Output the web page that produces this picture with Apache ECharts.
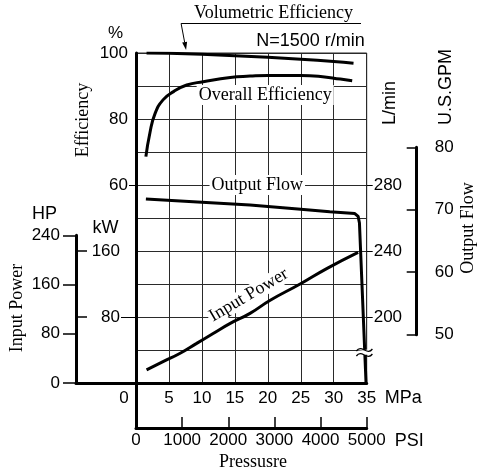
<!DOCTYPE html>
<html>
<head>
<meta charset="utf-8">
<script src="https://cdn.jsdelivr.net/npm/echarts@6/dist/echarts.min.js"></script>
<style>
  html, body { margin: 0; padding: 0; background: #fff; }
  #chart { width: 478px; height: 474px; }
</style>
</head>
<body>
<div id="chart"></div>
<script>
// ---- axis ticks / labels ----
const mpaTicks = [0, 5, 10, 15, 20, 25, 30, 35];
const psiTickMarks = [1000, 2000, 3000, 4000, 5000];
const effLabels = [60, 80, 100];
const lpmLabels = [200, 240, 280];
const gpmTicks = [50, 60, 70, 80];
const hpTicks = [0, 80, 160, 240];
const kwLabels = [80, 160];

// ---- performance curves (N = 1500 r/min) ----
// Volumetric efficiency, %
const volPressure = [1.6, 5, 10, 15, 20, 25, 30, 33];
const volEff = [100, 99.9, 99.6, 99.2, 98.7, 98.1, 97.4, 96.9];
// Overall efficiency, %
const overallPressure = [1.5, 2.1, 2.9, 4.1, 5.7, 7.7, 10.2, 14.3, 17.3, 20, 25, 28, 31, 32.8];
const overallEff = [68.6, 75.7, 81.7, 85.8, 88.3, 90.3, 91.3, 92.6, 93.0, 93.2, 93.2, 92.9, 92.1, 91.6];
// Output flow, L/min
const flowPressure = [1.5, 10, 17.3, 25, 29.4, 33.2, 33.7, 33.9, 34.9];
const flowLpm = [271.5, 269.6, 267.9, 265.3, 263.8, 262.7, 261, 257, 160];
// Input power, kW
const powerPressure = [1.6, 4.1, 6.7, 9.2, 11.7, 14.3, 17.3, 20.3, 24.9, 29, 33.7];
const powerKw = [15.8, 25.8, 36, 48, 60, 72.3, 84.4, 100, 120, 139, 158.4];

// unit conversions
const LPM_PER_GPM = 3.7854;
const KW_PER_HP = 0.7457;

// ---- layout ----
const PL = 136, PT = 53, PW = 230.7, PH = 330;   // main plot
const PB = PT + PH;
const LPM_MIN = 160, LPM_MAX = 360, KW_MAX = 400;
const yOfLpm = v => PT + (LPM_MAX - v) / (LPM_MAX - LPM_MIN) * PH;
const yOfKw = v => PB - v / KW_MAX * PH;
const hpTop = yOfKw(240 * KW_PER_HP);
const gpmTop = yOfLpm(80 * LPM_PER_GPM);
const gpmBot = yOfLpm(50 * LPM_PER_GPM);
const GPM_X = 426.7;

const SANS = '"Liberation Sans", Arial, sans-serif';
const SERIF = '"Liberation Serif", "Times New Roman", serif';
const INK = '#000';
const GRID_INK = '#2a2a2a';
const thick = { show: true, lineStyle: { color: INK, width: 3 } };
const numLabel = { color: INK, fontSize: 17, fontFamily: SANS };
const gridLines = { show: true, showMinLine: true, showMaxLine: true, lineStyle: { color: GRID_INK, width: 1 } };

const pairs = (xs, ys) => xs.map((x, i) => [x, ys[i]]);
const curve = (name, xs, ys, yIdx, smooth) => ({
  name, type: 'line', xAxisIndex: 0, yAxisIndex: yIdx,
  data: pairs(xs, ys), smooth, showSymbol: false, symbol: 'none',
  lineStyle: { color: INK, width: 3 }, z: 5, animation: false
});

const chart = echarts.init(document.getElementById('chart'), null, { renderer: 'canvas' });

const option = {
  animation: false,
  backgroundColor: '#fff',
  grid: [
    { left: PL, top: PT, width: PW, height: PH,                          // main plot
      show: true, borderWidth: 1, borderColor: GRID_INK, backgroundColor: 'transparent' },
    { left: 76, top: hpTop, width: PL - 76, height: PB - hpTop },        // input power scales
    { left: PL, top: PB, width: PW, height: 45 },                        // PSI scale
    { left: GPM_X - 10, top: gpmTop, width: 10, height: gpmBot - gpmTop } // U.S.GPM scale
  ],
  xAxis: [
    {
      gridIndex: 0, type: 'value', min: 0, max: 35, interval: 5,
      axisLine: thick, axisTick: { show: false },
      axisLabel: Object.assign({}, numLabel, {
        margin: 7,
        formatter: v => v === 0 ? '{z|0}' : String(v),
        rich: { z: { fontSize: 17, fontFamily: SANS, color: INK, padding: [0, 24, 0, 0] } }
      }),
      splitLine: gridLines,
      name: 'MPa', nameLocation: 'end', nameGap: 18,
      nameTextStyle: { color: INK, fontSize: 18, fontFamily: SANS, verticalAlign: 'top', padding: [6, 0, 0, 0] }
    },
    {
      gridIndex: 1, type: 'value', min: 0, max: 1,
      axisLine: thick, axisTick: { show: false }, axisLabel: { show: false }, splitLine: { show: false }
    },
    {
      gridIndex: 2, type: 'value', min: 0, max: 5000, interval: 1000, position: 'bottom',
      axisLine: thick,
      axisTick: { show: true, inside: true, length: 11, customValues: psiTickMarks, lineStyle: { color: INK, width: 1.5 } },
      axisLabel: Object.assign({}, numLabel, { margin: 4, formatter: v => String(v) }),
      splitLine: { show: false },
      name: 'PSI', nameLocation: 'end', nameGap: 28,
      nameTextStyle: { color: INK, fontSize: 18, fontFamily: SANS, verticalAlign: 'top', padding: [4, 0, 0, 0] }
    },
    {
      gridIndex: 3, type: 'value', min: 0, max: 1, show: false
    }
  ],
  yAxis: [
    { // efficiency %
      gridIndex: 0, type: 'value', position: 'left', min: 0, max: 100, interval: 10,
      axisLine: thick,
      axisTick: { show: false },
      axisLabel: Object.assign({}, numLabel, { margin: 8, customValues: effLabels }),
      splitLine: gridLines
    },
    { // output flow L/min
      gridIndex: 0, type: 'value', position: 'right', min: LPM_MIN, max: LPM_MAX, interval: 20,
      axisLine: { show: false },
      axisTick: { show: true, length: 6, customValues: lpmLabels, lineStyle: { color: INK, width: 1 } },
      axisLabel: Object.assign({}, numLabel, { margin: 7, customValues: lpmLabels }),
      splitLine: { show: false }
    },
    { // input power kW (plotting scale)
      gridIndex: 0, type: 'value', min: 0, max: KW_MAX, show: false
    },
    { // HP
      gridIndex: 1, type: 'value', position: 'left', min: 0, max: 240, interval: 80,
      axisLine: thick,
      axisTick: { show: true, length: 13, lineStyle: { color: INK, width: 1.5 } },
      axisLabel: Object.assign({}, numLabel, { margin: 16 }),
      splitLine: { show: false }
    },
    { // kW ticks on the HP line
      gridIndex: 1, type: 'value', position: 'left', min: 0, max: 240 * KW_PER_HP,
      axisLine: { show: false },
      axisTick: { show: true, inside: true, length: 11, customValues: kwLabels, lineStyle: { color: INK, width: 1.5 } },
      axisLabel: { show: false }, splitLine: { show: false }
    },
    { // kW labels
      gridIndex: 1, type: 'value', position: 'right', min: 0, max: 240 * KW_PER_HP,
      axisLine: { show: false },
      axisTick: { show: true, inside: true, length: 15, customValues: [80], lineStyle: { color: INK, width: 1 } },
      axisLabel: Object.assign({}, numLabel, { inside: true, margin: 16, customValues: kwLabels }),
      splitLine: { show: false }
    },
    { // PSI block left edge
      gridIndex: 2, type: 'value', min: 0, max: 1,
      axisLine: thick, axisTick: { show: false }, axisLabel: { show: false }, splitLine: { show: false }
    },
    { // U.S.GPM
      gridIndex: 3, type: 'value', position: 'right', min: 50, max: 80, interval: 10,
      axisLine: thick,
      axisTick: { show: true, inside: true, length: 10, lineStyle: { color: INK, width: 1.5 } },
      axisLabel: Object.assign({}, numLabel, { margin: 8 }),
      splitLine: { show: false }
    },
    { // short lead-in mark at 60 %
      gridIndex: 0, type: 'value', position: 'left', min: 0, max: 100,
      axisLine: { show: false },
      axisTick: { show: true, length: 7, customValues: [60], lineStyle: { color: INK, width: 1 } },
      axisLabel: { show: false }, splitLine: { show: false }
    }
  ],
  series: [
    curve('Volumetric Efficiency', volPressure, volEff, 0, true),
    curve('Overall Efficiency', overallPressure, overallEff, 0, true),
    curve('Output Flow', flowPressure, flowLpm, 1, false),
    curve('Input Power', powerPressure, powerKw, 2, true)
  ]
};

chart.setOption(option);

// ---- annotations ----
const toPx = (yIdx, pt) => chart.convertToPixel({ xAxisIndex: 0, yAxisIndex: yIdx }, pt);

function text(x, y, str, font, extra) {
  return Object.assign({
    type: 'text', x, y, z: 20,
    style: Object.assign({
      text: str, font, fill: INK,
      align: 'center', verticalAlign: 'middle',
      textAlign: 'center', textVerticalAlign: 'middle'
    }, (extra && extra.style) || {})
  }, extra && extra.rotation !== undefined ? { rotation: extra.rotation } : {});
}
const sans18 = '18px ' + SANS;
const serif18 = '18px ' + SERIF;
const UP = Math.PI / 2;

const overallAt = toPx(0, [19.6, 87.3]);
const flowAt = toPx(1, [18.4, 280]);
const powerAt = toPx(2, [17.1, 106.5]);
const arrowTip = toPx(0, [7.6, 100]);
const breakAt = toPx(1, [34.65, 180]);

const tipX = arrowTip[0], tipY = arrowTip[1] - 3;
const tailX = tipX - 5, tailY = 23.5;
const dx = tipX - tailX, dy = tipY - tailY, len = Math.hypot(dx, dy);
const ux = dx / len, uy = dy / len;
const bx = tipX - 8 * ux, by = tipY - 8 * uy;

const bxC = breakAt[0], byC = breakAt[1];
const wave = (off) => ({
  type: 'bezierCurve', z: 22,
  shape: { x1: bxC - 8, y1: byC + off + 1, x2: bxC + 8, y2: byC + off - 1,
           cpx1: bxC - 3, cpy1: byC + off - 6, cpx2: bxC + 3, cpy2: byC + off + 6 },
  style: { stroke: INK, lineWidth: 1.3, fill: null }
});

const whiteBg = { backgroundColor: '#fff', padding: [1, 2] };

chart.setOption({
  graphic: [
    // header
    text(273.5, 13, 'Volumetric Efficiency', serif18),
    { type: 'line', z: 20, shape: { x1: tailX, y1: tailY, x2: 361, y2: tailY }, style: { stroke: INK, lineWidth: 1 } },
    { type: 'line', z: 20, shape: { x1: tailX, y1: tailY, x2: bx, y2: by }, style: { stroke: INK, lineWidth: 1 } },
    { type: 'polygon', z: 20, shape: { points: [[tipX, tipY], [bx + 2.5 * uy, by - 2.5 * ux], [bx - 2.5 * uy, by + 2.5 * ux]] }, style: { fill: INK } },
    text(310.5, 41, 'N=1500 r/min', sans18),

    // scale titles
    text(115.5, 33, '%', '17px ' + SANS),
    text(83, 120, 'Efficiency', serif18, { rotation: UP }),
    text(390, 103, 'L/min', sans18, { rotation: UP }),
    text(446, 87, 'U.S.GPM', sans18, { rotation: UP }),
    text(468, 228, 'Output Flow', serif18, { rotation: UP }),
    text(17, 308, 'Input Power', serif18, { rotation: UP }),
    text(44.5, 214, 'HP', sans18),
    text(105.5, 228, 'kW', sans18),
    text(253, 462, 'Pressusre', serif18),

    // curve labels
    text(overallAt[0], overallAt[1], 'Overall Efficiency', serif18, { style: whiteBg }),
    text(flowAt[0], flowAt[1], 'Output Flow', serif18, { style: whiteBg }),
    text(powerAt[0], powerAt[1], 'Input Power', serif18, { rotation: 30.5 * Math.PI / 180, style: { backgroundColor: '#fff', padding: [0, 2] } }),

    // scale break on the flow line
    { type: 'polygon', z: 21, shape: { points: [[bxC - 8, byC + 1], [bxC + 8, byC - 1], [bxC + 8, byC + 4], [bxC - 8, byC + 6]] }, style: { fill: '#fff' } },
    wave(0), wave(5)
  ]
});
</script>
</body>
</html>
